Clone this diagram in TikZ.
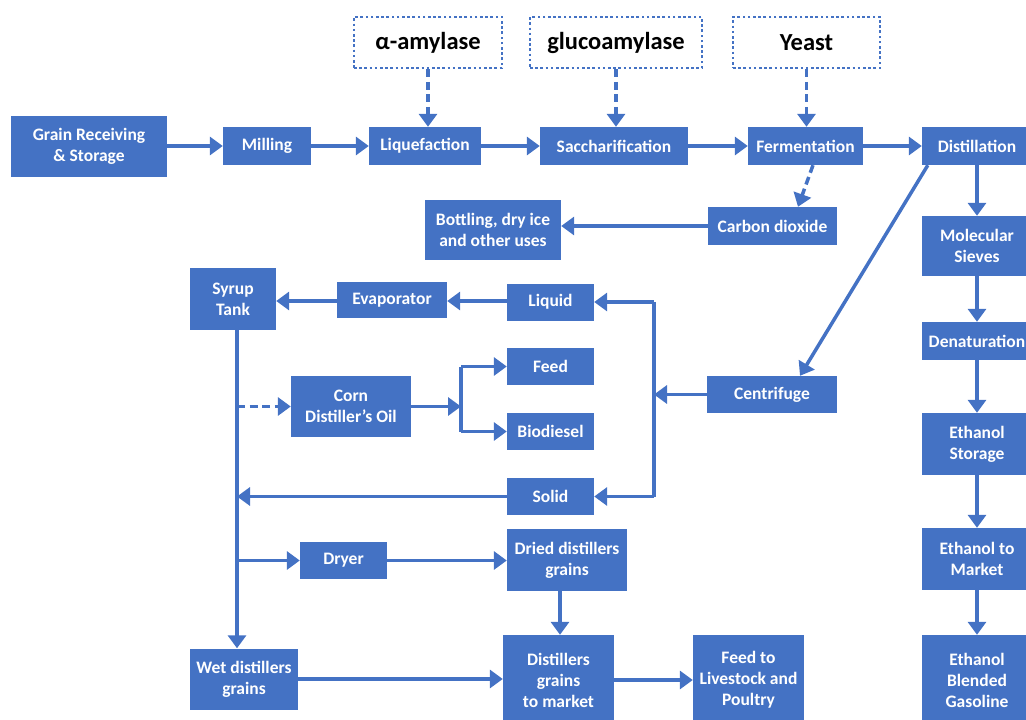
\documentclass[tikz,border=0pt]{standalone}
\usepackage{fontspec}
\setmainfont{Carlito}
\usetikzlibrary{arrows.meta,calc}
\definecolor{obl}{HTML}{4472C4}
\tikzset{
  box/.style={draw=none,fill=obl,text=white,font=\bfseries\fontsize{17.5}{21}\selectfont,align=center,inner sep=0pt,anchor=center},
  dotbox/.style={draw=obl,line width=2.8pt,dash pattern=on 2.6pt off 2.6pt,fill=white,text=black,font=\bfseries\fontsize{24.5}{28}\selectfont,align=center,inner sep=0pt,minimum height=51pt},
  flow/.style={draw=obl,line width=3.5pt,-{Triangle[width=18pt,length=13pt]}},
  dflow/.style={flow,dash pattern=on 8pt off 4.5pt},
  ln/.style={draw=obl,line width=3.5pt}
}
\newcommand{\bx}[6]{\node[box,minimum width=#4pt,minimum height=#5pt] (#1) at (#2,#3) {#6};}
\begin{document}
\begin{tikzpicture}[x=1pt,y=-1pt]
\useasboundingbox (0,0) rectangle (1026,720);
\begin{scope}
\clip (0,0) rectangle (1026,720);
% top row
\bx{grain}{89}{146}{156}{61}{Grain Receiving\\\& Storage}
\bx{mill}{267}{146}{88}{38}{Milling}
\bx{liq}{425}{146}{112}{38}{Liquefaction}
\bx{sacc}{614}{146}{148}{38}{Saccharification}
\bx{ferm}{805.5}{146}{115}{38}{Fermentation}
\bx{dist}{977}{146}{110}{38}{Distillation}
\node[dotbox,minimum width=148pt] (amyl) at (428,42.5) {α-amylase};
\node[dotbox,minimum width=172pt] (gluco) at (616,42.5) {glucoamylase};
\node[dotbox,minimum width=147pt] (yeast) at (806.5,42.5) {Yeast};
% CO2
\bx{co2}{772.5}{226}{129}{38}{Carbon dioxide}
\bx{bott}{493}{230}{136}{60}{Bottling, dry ice\\and other uses}
% right column
\bx{mol}{977}{246}{110}{60}{Molecular\\Sieves}
\bx{den}{977}{341}{110}{38}{Denaturation}
\bx{est}{977}{444}{110}{62}{Ethanol\\Storage}
\bx{emk}{977}{559}{110}{62}{Ethanol to\\Market}
\bx{ebl}{977}{680}{110}{90}{Ethanol\\Blended\\Gasoline}
% middle
\bx{cent}{772}{394.5}{130}{37}{Centrifuge}
\bx{liquid}{550.5}{302}{87}{37}{Liquid}
\bx{feed}{550.5}{366.5}{87}{37}{Feed}
\bx{bio}{550.5}{431.5}{87}{37}{Biodiesel}
\bx{solid}{550.5}{496.5}{87}{37}{Solid}
\bx{syrup}{233}{299}{86}{62}{Syrup\\Tank}
\bx{evap}{392}{300}{110}{36}{Evaporator}
\bx{oil}{351}{406.5}{120}{61}{Corn\\Distiller’s Oil}
\bx{dryer}{343.5}{560.5}{87}{37}{Dryer}
\bx{dried}{567}{560}{120}{62}{Dried distillers\\grains}
\bx{wet}{244}{679}{108}{61}{Wet distillers\\grains}
\bx{dgm}{558.5}{680}{111}{90}{Distillers\\grains\\to market}
\bx{live}{748.5}{680}{111}{90}{Feed to\\Livestock and\\Poultry}
% coordinates
\coordinate (vtop) at (237,330);
\coordinate (vsolid) at (237,496.5);
\coordinate (voil) at (237,406.5);
\coordinate (vdry) at (237,560.5);
\coordinate (bo) at (461,406.5);
\coordinate (bc) at (654,394.5);
\coordinate (evy) at (0,301);
\coordinate (dgx) at (560,0);
% top flow
\draw[flow] (grain) -- (mill);
\draw[flow] (mill) -- (liq);
\draw[flow] (liq) -- (sacc);
\draw[flow] (sacc) -- (ferm);
\draw[flow] (ferm) -- (dist);
\draw[dflow] (amyl.south) -- (amyl.south |- liq.north);
\draw[dflow] (gluco.south) -- (gluco.south |- sacc.north);
\draw[dflow] (yeast.south) -- (yeast.south |- ferm.north);
\draw[dflow] ($(ferm.south)+(7.5,0)$) -- ($(co2.north)+(25.5,0)$);
\draw[flow] (co2.west) -- (co2.west -| bott.east);
% ethanol chain
\draw[flow] (dist) -- (mol);
\draw[flow] (mol) -- (den);
\draw[flow] (den) -- (est);
\draw[flow] (est) -- (emk);
\draw[flow] (emk) -- (ebl);
% centrifuge
\draw[flow] ($(dist.south west)+(6,0)$) -- ($(cent.north)+(28,0)$);
\draw[flow] (cent.west) -- (bc);
\draw[ln] (bc |- liquid.east) -- (bc |- solid.east);
\draw[flow] (bc |- liquid.east) -- (liquid.east);
\draw[flow] (bc |- solid.east) -- (solid.east);
\draw[flow] (liquid.west |- evy) -- (evap.east |- evy);
\draw[flow] (evap.west |- evy) -- (syrup.east |- evy);
% syrup line
\draw[flow] (vtop) -- (vtop |- wet.north);
\draw[flow] (solid.west) -- (vsolid);
\draw[dflow] (voil) -- (oil.west);
\draw[flow] (oil.east) -- (bo);
\draw[ln] (bo |- feed.west) -- (bo |- bio.west);
\draw[flow] (bo |- feed.west) -- (feed.west);
\draw[flow] (bo |- bio.west) -- (bio.west);
\draw[flow] (vdry) -- (dryer.west);
\draw[flow] (dryer) -- (dryer -| dried.west);
\draw[flow] (dgx |- dried.south) -- (dgx |- dgm.north);
\draw[flow] (wet) -- (wet -| dgm.west);
\draw[flow] (dgm) -- (live);
\end{scope}
\end{tikzpicture}
\end{document}
